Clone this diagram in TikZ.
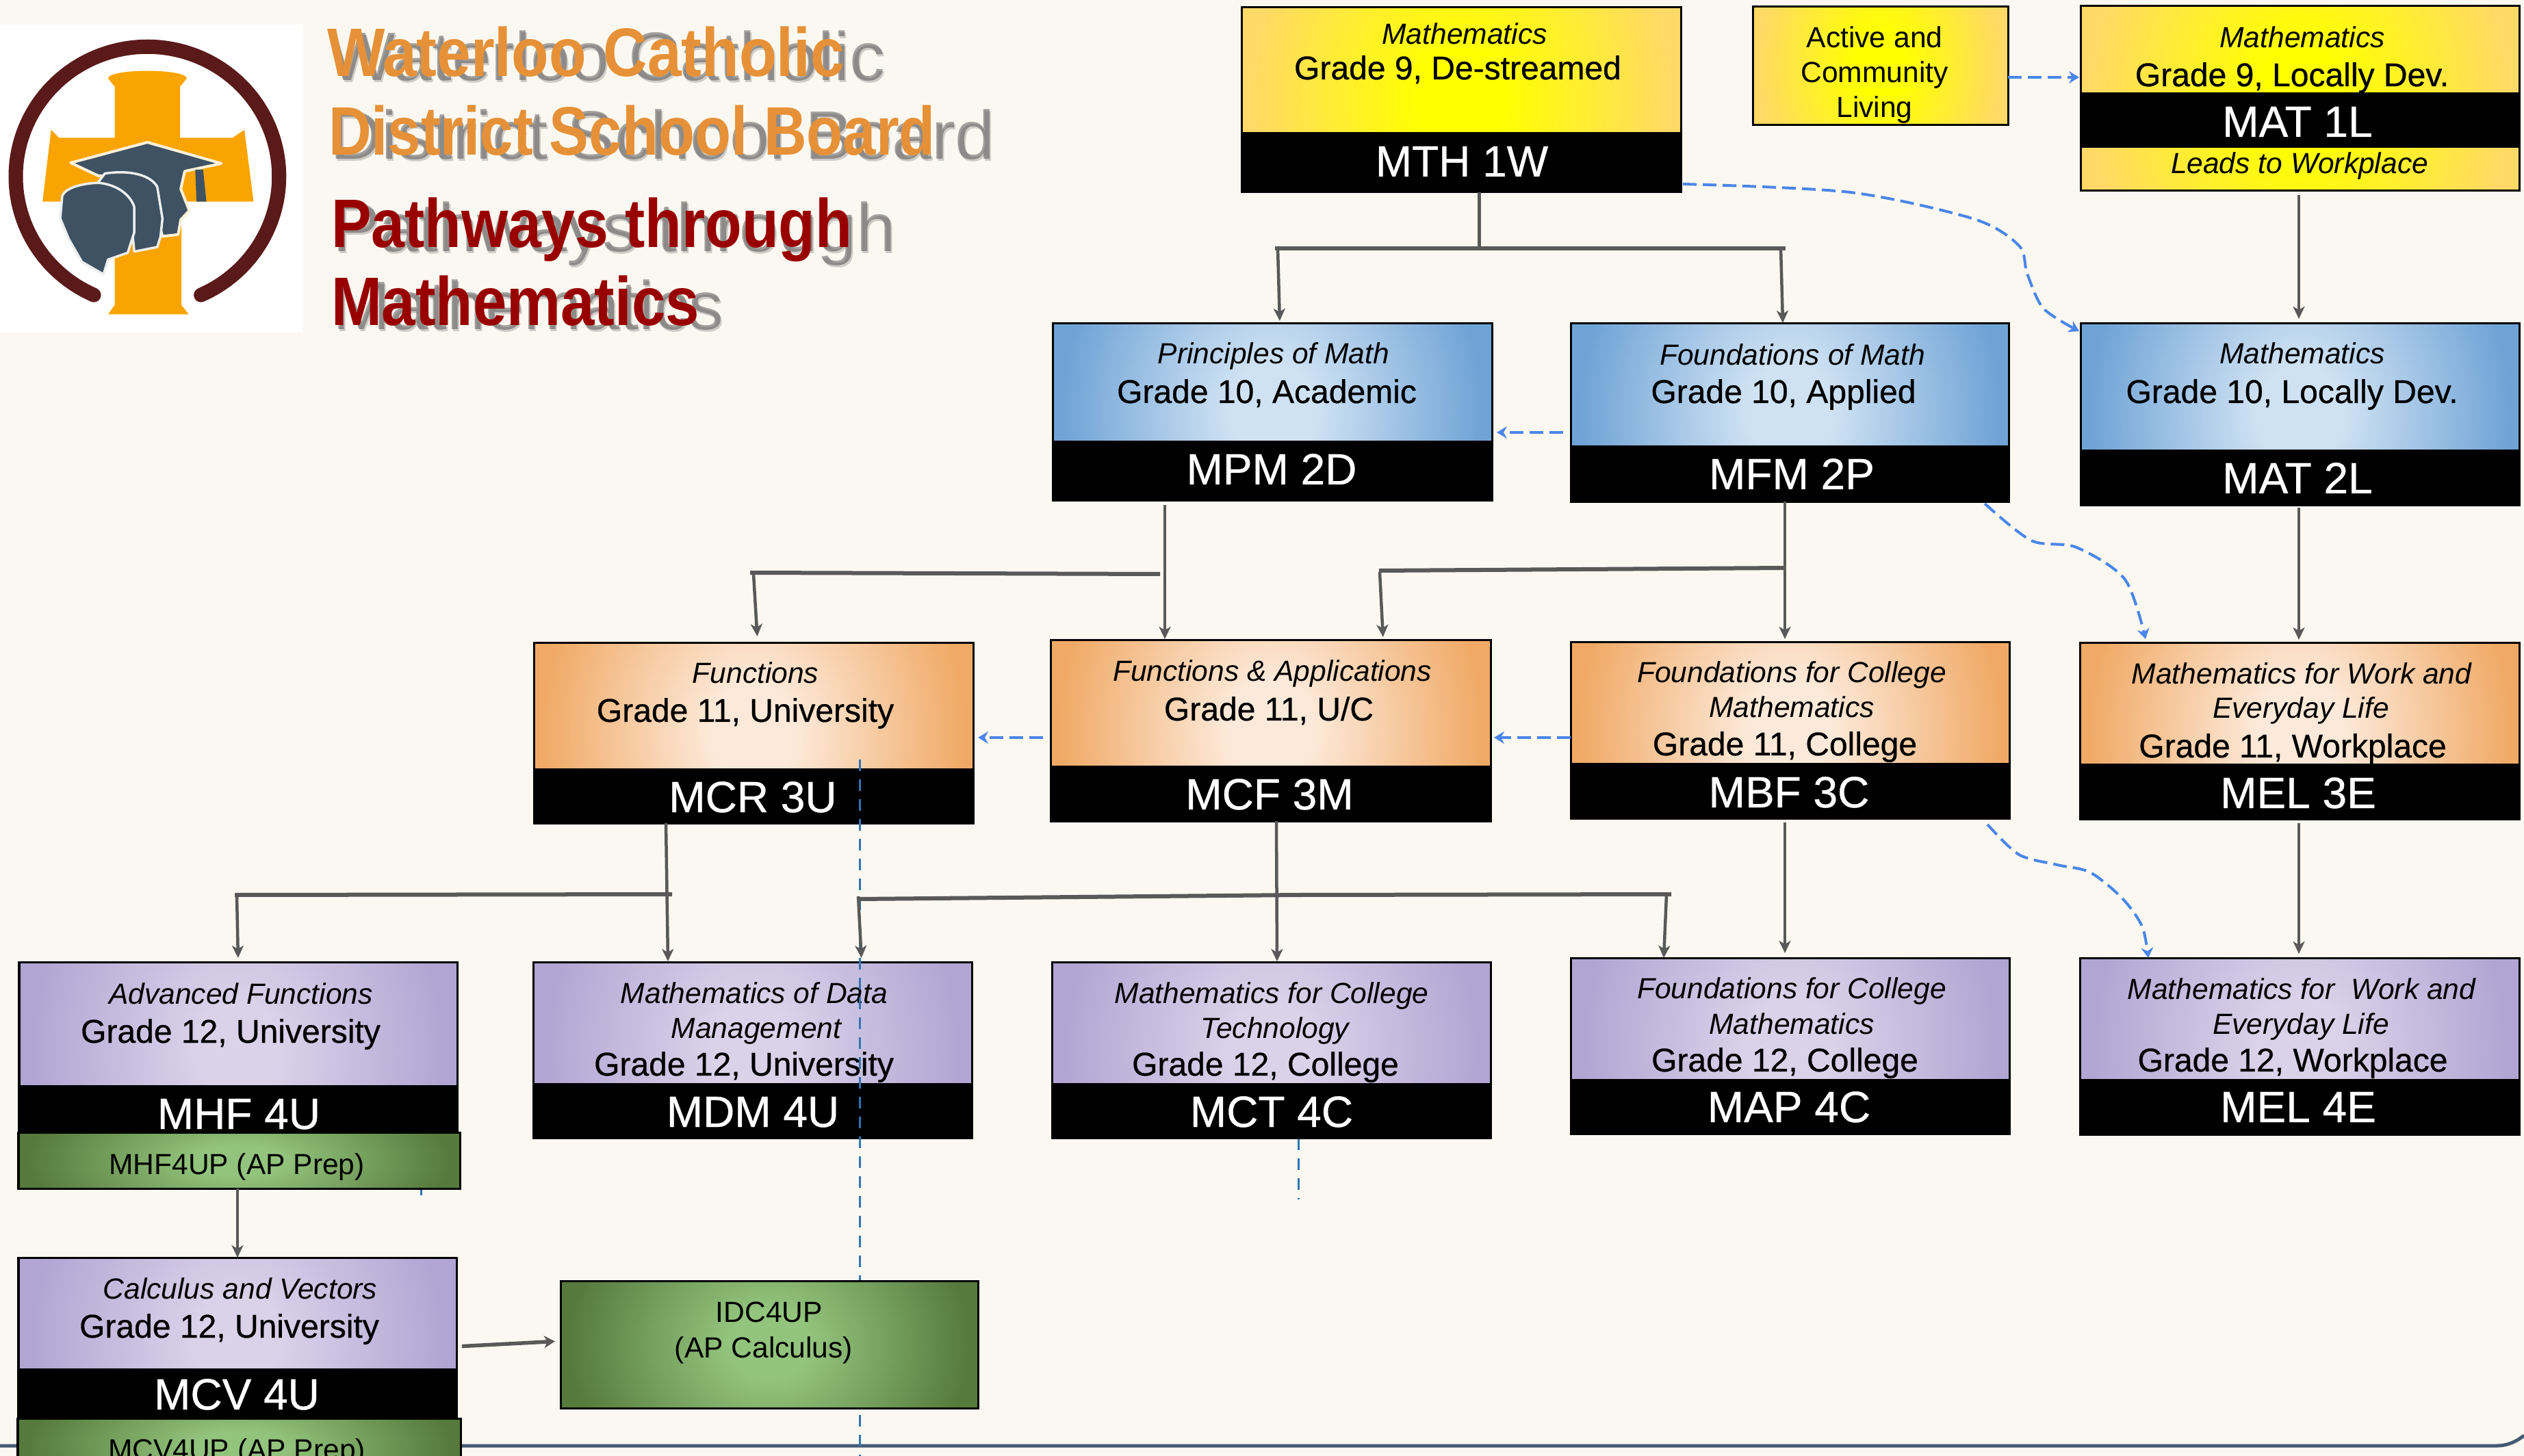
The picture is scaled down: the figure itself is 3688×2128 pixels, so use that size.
\documentclass[tikz,border=0pt]{standalone}
\usepackage{fontspec}
\usepackage{graphicx}
\setmainfont{Liberation Sans}
\newfontfamily\grfam[FakeBold=0.6]{Liberation Sans}
\usetikzlibrary{arrows.meta}
\definecolor{pagebg}{HTML}{FBF8F1}
\definecolor{yelI}{HTML}{FFFF00}\definecolor{yelO}{HTML}{FFD966}
\definecolor{bluI}{HTML}{CFE2F3}\definecolor{bluO}{HTML}{6FA3D6}
\definecolor{oraI}{HTML}{FDE9D9}\definecolor{oraO}{HTML}{F0AA66}
\definecolor{purI}{HTML}{D9D2E9}\definecolor{purO}{HTML}{B0A5D3}
\definecolor{greI}{HTML}{93C47D}\definecolor{greO}{HTML}{567A3C}
\definecolor{conn}{HTML}{595959}
\definecolor{bluedash}{HTML}{4A86E8}
\definecolor{thindash}{HTML}{2E75B6}
\definecolor{slate}{HTML}{465A75}
\definecolor{titleor}{HTML}{E69138}
\definecolor{titlered}{HTML}{990000}
\definecolor{ringred}{HTML}{5B1A1A}
\definecolor{crossor}{HTML}{F9A400}
\definecolor{headsl}{HTML}{3E5263}
\pgfdeclareradialshading{yelsh}{\pgfpointorigin}{color(0bp)=(yelI); color(4bp)=(yelI); color(20bp)=(yelO); color(50bp)=(yelO)}
\pgfdeclareradialshading{blush}{\pgfpointorigin}{color(0bp)=(bluI); color(4bp)=(bluI); color(20bp)=(bluO); color(50bp)=(bluO)}
\pgfdeclareradialshading{orash}{\pgfpointorigin}{color(0bp)=(oraI); color(4bp)=(oraI); color(20bp)=(oraO); color(50bp)=(oraO)}
\pgfdeclareradialshading{pursh}{\pgfpointorigin}{color(0bp)=(purI); color(4bp)=(purI); color(20bp)=(purO); color(50bp)=(purO)}
\pgfdeclareradialshading{gresh}{\pgfpointorigin}{color(0bp)=(greI); color(4bp)=(greI); color(20bp)=(greO); color(50bp)=(greO)}
\newlength\pxu \setlength\pxu{0.01cm}
\newcommand\ilfont{\fontsize{12.1}{14.5}\selectfont\itshape}
\newcommand\plfont{\fontsize{12.1}{14.5}\selectfont}
\newcommand\grfont{\grfam\fontsize{13.66}{14.5}\selectfont}
\newcommand\il[2]{\leavevmode\hbox{\vrule width0pt height36\pxu\kern#1\pxu\ilfont #2\kern-#1\pxu}}
\newcommand\gr[2]{\leavevmode\hbox{\vrule width0pt height36\pxu\kern#1\pxu\grfont #2\kern-#1\pxu}}
\newcommand\pl[2]{\leavevmode\hbox{\vrule width0pt height36\pxu\kern#1\pxu\plfont #2\kern-#1\pxu}}
\tikzset{
  coursebox/.style={rectangle,draw=black,line width=0.03cm,inner sep=0,outer sep=0},
  toptext/.style={anchor=north,align=center,inner sep=0,outer sep=0,text=black,font=\plfont},
  codetext/.style={anchor=base,inner sep=0,outer sep=0,text=white,font=\grfam\fontsize{18.2}{20}\selectfont},
  onetext/.style={anchor=base,inner sep=0,outer sep=0,text=black,font=\plfont},
  gline/.style={draw=conn,line width=0.05cm},
  gbar/.style={draw=conn,line width=0.06cm},
  garrow/.style={draw=conn,line width=0.045cm,-{Stealth[length=0.18cm,width=0.17cm,inset=0.05cm]}},
  barrow/.style={draw=bluedash,line width=0.04cm,dash pattern=on 0.2cm off 0.09cm,-{Stealth[length=0.15cm,width=0.18cm,inset=0.05cm]}},
  thind/.style={draw=thindash,line width=0.03cm,dash pattern=on 0.17cm off 0.12cm},
  titletext/.style={anchor=base west,inner sep=0,outer sep=0},
}
\newcommand\gradbox[6]{%
  \pgfmathsetmacro\bw{#3-#2}\pgfmathsetmacro\bh{#5-#4}%
  \pgfmathsetmacro\bcx{(#2+#3)/2}\pgfmathsetmacro\bcy{(#4+#5)/2}%
  \pgfmathsetmacro\brx{0.6*\bw}\pgfmathsetmacro\bry{1.7*\bh}%
  \node[coursebox,minimum width=\bw*\pxu,minimum height=\bh*\pxu,fill=white,
    path picture={\shade[shading=#6] ([shift={(-\brx,-\bry)}]path picture bounding box.center) rectangle ([shift={(\brx,\bry)}]path picture bounding box.center);}]
    (#1) at (\bcx,\bcy) {};}
\newcommand\blackbar[4]{\fill[black] (#1,#3) rectangle (#2,#4);}
\newcommand\titleline[7]{%
  \node[titletext,text=gray!60!black,opacity=.25] (#1a) at (#2+4,#3+9) {\fontsize{28.5}{30}\selectfont\resizebox{#5\pxu}{\height}{#7}};
  \node[titletext,text=gray!60!black,opacity=.5] (#1b) at (#2+2,#3+6) {\fontsize{28.5}{30}\selectfont\resizebox{#5\pxu}{\height}{#7}};
  \node[titletext,text=#6] (#1) at (#2,#3) {\fontsize{28.5}{30}\selectfont\resizebox{#4\pxu}{\height}{\bfseries #7}};}
\begin{document}
\begin{tikzpicture}[x=0.01cm,y=-0.01cm]
\useasboundingbox (0,0) rectangle (3688,2128);
\clip (0,0) rectangle (3688,2128);
\fill[pagebg] (0,0) rectangle (3688,2128);
% logo (drawn in the coordinates of an anisotropic crop)
\begin{scope}[x=0.00957cm,y=-0.003333cm]
  \fill[white] (0,108) rectangle (463,1460);
  \draw[ringred,line width=0.21cm,line cap=round] plot[domain=-246:66,samples=70,smooth] ({225+201*cos(\x)},{775+570*sin(\x)});
  \fill[crossor] (165,345) .. controls (165,300) and (285,300) .. (285,345) -- (275,380) -- (275,605) -- (355,605) -- (373,570) -- (387,885) -- (277,885) -- (277,1340) -- (288,1380) -- (165,1380) -- (175,1340) -- (175,885) -- (65,885) -- (78,570) -- (90,605) -- (175,605) -- (175,380) -- cycle;
  \draw[draw=white!85!crossor,line width=0.04cm,fill=headsl,line join=round] (225,625) -- (338,718) -- (282,752) -- (276,830) -- (289,925) -- (276,965) -- (272,1030) -- (248,1038) -- (235,900) -- (215,780) -- (150,772) -- (108,715) -- cycle;
  \fill[headsl] (298,745) -- (310,745) -- (315,885) -- (300,885) -- cycle;
  \draw[draw=white!90!headsl,line width=0.035cm,fill=headsl,line join=round] (160,762) .. controls (200,745) and (230,770) .. (240,820) -- (248,960) -- (245,1040) -- (240,1085) -- (205,1105) -- (200,960) -- (190,860) -- (150,800) -- cycle;
  \draw[draw=white!90!headsl,line width=0.035cm,fill=headsl,line join=round] (150,803) .. controls (180,810) and (200,860) .. (205,910) -- (205,1020) -- (195,1110) -- (165,1140) -- (158,1205) -- (125,1150) -- (105,1050) -- (92,960) -- (95,860) .. controls (100,825) and (125,805) .. cycle;
\end{scope}
% titles
\titleline{ttlA}{478}{112}{756}{813}{titleor}{Waterloo Catholic}
\titleline{ttlB}{480}{227}{887}{972}{titleor}{District School Board}
\titleline{ttlC}{484}{362}{761}{823}{titlered}{Pathways through}
\titleline{ttlD}{484}{476}{538}{571}{titlered}{Mathematics}
% bottom rule
\coordinate (ruleL) at (0,2113);
\coordinate (ruleR) at (3688,2098);
\draw[slate,line width=0.05cm] (ruleL) -- (3648,2113) .. controls (3665,2113) and (3678,2106) .. (ruleR);
% small dashed stubs
\coordinate (stubA) at (615,1730); \coordinate (stubB) at (615,1747);
\draw[thind] (stubA) -- (stubB);
\coordinate (stubC) at (1897,1664); \coordinate (stubD) at (1897,1753);
\draw[thind] (stubC) -- (stubD);
% grade 9
\gradbox{mth}{1814}{2456}{11}{281}{yelsh}
\blackbar{1814}{2456}{193}{281}
\node[toptext] (mthT) at (2135,29) {\il{5}{Mathematics}\\\gr{-5}{Grade 9, De-streamed}};
\node[codetext] (mthC) at (2136,258) {MTH 1W};
\gradbox{actv}{2561}{2934}{10}{183}{yelsh}
\node[toptext] (actvT) at (2739,34) {\pl{0}{Active and}\\\pl{0}{Community}\\\pl{0}{Living}};
\gradbox{mata}{3040}{3681}{9}{279}{yelsh}
\blackbar{3040}{3681}{135}{216}
\node[toptext] (mataT) at (3360,34) {\il{4}{Mathematics}\\[5\pxu]\gr{-11}{Grade 9, Locally Dev.}};
\node[codetext] (mataC) at (3357,200) {MAT 1L};
\node[onetext,font=\ilfont] (mataL) at (3360,254) {Leads to Workplace};
% grade 10
\gradbox{mpm}{1538}{2180}{473}{731}{blush}
\blackbar{1538}{2180}{644}{731}
\node[toptext] (mpmT) at (1859,496) {\il{2}{Principles of Math}\\[6\pxu]\gr{-8}{Grade 10, Academic}};
\node[codetext] (mpmC) at (1858,708) {MPM 2D};
\gradbox{mfm}{2295}{2935}{473}{733}{blush}
\blackbar{2295}{2935}{651}{733}
\node[toptext] (mfmT) at (2615,497) {\il{4}{Foundations of Math}\\[5\pxu]\gr{-9}{Grade 10, Applied}};
\node[codetext] (mfmC) at (2618,715) {MFM 2P};
\gradbox{matb}{3040}{3681}{473}{738}{blush}
\blackbar{3040}{3681}{657}{738}
\node[toptext] (matbT) at (3360,496) {\il{4}{Mathematics}\\[6\pxu]\gr{-11}{Grade 10, Locally Dev.}};
\node[codetext] (matbC) at (3357,721) {MAT 2L};
% grade 11
\gradbox{mcr}{780}{1422}{939}{1203}{orash}
\blackbar{780}{1422}{1123}{1203}
\node[toptext] (mcrT) at (1101,962) {\il{3}{Functions}\\[6\pxu]\gr{-12}{Grade 11, University}};
\node[codetext] (mcrC) at (1100,1187) {MCR 3U};
\gradbox{mcf}{1535}{2178}{935}{1200}{orash}
\blackbar{1535}{2178}{1119}{1200}
\node[toptext] (mcfT) at (1857,959) {\il{2}{Functions \& Applications}\\[7\pxu]\gr{-3}{Grade 11, U/C}};
\node[codetext] (mcfC) at (1855,1183) {MCF 3M};
\gradbox{mbf}{2295}{2936}{938}{1196}{orash}
\blackbar{2295}{2936}{1115}{1196}
\node[toptext] (mbfT) at (2615,961) {\il{3}{Foundations for College}\\[1\pxu]\il{3}{Mathematics}\\[4\pxu]\gr{-7}{Grade 11, College}};
\node[codetext] (mbfC) at (2614,1180) {MBF 3C};
\gradbox{melc}{3039}{3681}{939}{1197}{orash}
\blackbar{3039}{3681}{1116}{1197}
\node[toptext] (melcT) at (3360,963) {\il{3}{Mathematics for Work and}\\\il{2}{Everyday Life}\\[6\pxu]\gr{-10}{Grade 11, Workplace}};
\node[codetext] (melcC) at (3358,1181) {MEL 3E};
% grade 12
\gradbox{mhf}{28}{668}{1406}{1660}{pursh}
\blackbar{28}{668}{1586}{1660}
\node[toptext] (mhfT) at (348,1431) {\il{4}{Advanced Functions}\\[6\pxu]\gr{-11}{Grade 12, University}};
\node[codetext] (mhfC) at (349,1650) {MHF 4U};
\gradbox{mhfp}{27}{672}{1655}{1737}{gresh}
\node[onetext] (mhfpT) at (346,1716) {MHF4UP (AP Prep)};
\gradbox{mdm}{779}{1420}{1406}{1663}{pursh}
\blackbar{779}{1420}{1583}{1663}
\node[toptext] (mdmT) at (1100,1430) {\il{2}{Mathematics of Data}\\\il{5}{Management}\\[4\pxu]\gr{-13}{Grade 12, University}};
\node[codetext] (mdmC) at (1100,1647) {MDM 4U};
\gradbox{mct}{1537}{2178}{1406}{1663}{pursh}
\blackbar{1537}{2178}{1583}{1663}
\node[toptext] (mctT) at (1858,1430) {\il{0}{Mathematics for College}\\\il{5}{Technology}\\[4\pxu]\gr{-9}{Grade 12, College}};
\node[codetext] (mctC) at (1858,1647) {MCT 4C};
\gradbox{map}{2295}{2936}{1400}{1657}{pursh}
\blackbar{2295}{2936}{1577}{1657}
\node[toptext] (mapT) at (2615,1423) {\il{3}{Foundations for College}\\[1\pxu]\il{3}{Mathematics}\\[4\pxu]\gr{-7}{Grade 12, College}};
\node[codetext] (mapC) at (2614,1640) {MAP 4C};
\gradbox{meld}{3039}{3681}{1400}{1658}{pursh}
\blackbar{3039}{3681}{1577}{1658}
\node[toptext] (meldT) at (3360,1424) {\il{3}{Mathematics for\ \ Work and}\\\il{2}{Everyday Life}\\[4\pxu]\gr{-10}{Grade 12, Workplace}};
\node[codetext] (meldC) at (3358,1640) {MEL 4E};
\gradbox{mcv}{27}{667}{1838}{2078}{pursh}
\blackbar{27}{667}{2000}{2078}
\node[toptext] (mcvT) at (347,1862) {\il{4}{Calculus and Vectors}\\[6\pxu]\gr{-12}{Grade 12, University}};
\node[codetext] (mcvC) at (346,2060) {MCV 4U};
\gradbox{mcvp}{26}{673}{2073}{2155}{gresh}
\node[onetext] (mcvpT) at (346,2133) {MCV4UP (AP Prep)};
% long thin dashed line
\coordinate (longA) at (1256,1110); \coordinate (longB) at (1256,2128);
\draw[thind] (longA) -- (longB);
\gradbox{idc}{819}{1429}{1872}{2058}{gresh}
\node[toptext] (idcT) at (1120,1896) {\pl{4}{IDC4UP}\\[1\pxu]\pl{-4}{(AP Calculus)}};
% connectors, grey
\coordinate (jA) at (2161,363); \coordinate (jAl) at (1863,363); \coordinate (jAr) at (2609,363);
\draw[gline] (2161,0 |- mth.south) -- (2161,366);
\draw[gbar] (jAl) -- (jAr);
\draw[garrow,shorten >=4\pxu] (1867,363) -- (1870,0 |- mpm.north);
\draw[garrow,shorten >=1\pxu] (2602,363) -- (2605,0 |- mfm.north);
\draw[garrow,shorten <=6\pxu,shorten >=7\pxu] (3359,0 |- mata.south) -- (3359,0 |- matb.north);
\draw[garrow,shorten <=4\pxu,shorten >=4\pxu] (3359,0 |- matb.south) -- (3359,0 |- melc.north);
\coordinate (jBl) at (1096,837); \coordinate (jBr) at (1695,839);
\draw[garrow,shorten <=7\pxu,shorten >=1\pxu] (1702,0 |- mpm.south) -- (1702,0 |- mcf.north);
\draw[gbar] (jBl) -- (jBr);
\draw[garrow,shorten >=9\pxu] (1101,839) -- (1107,0 |- mcr.north);
\draw[garrow,shorten >=4\pxu] (2608,0 |- mfm.south) -- (2608,0 |- mbf.north);
\coordinate (jCl) at (2015,834); \coordinate (jCr) at (2608,830);
\draw[gbar] (jCl) -- (jCr);
\draw[garrow,shorten >=4\pxu] (2016,836) -- (2021,0 |- mcf.north);
\draw[garrow,shorten >=1\pxu] (973,0 |- mcr.south) -- (976,0 |- mdm.north);
\coordinate (jDl) at (343,1308); \coordinate (jDr) at (982,1307);
\draw[gbar] (jDl) -- (jDr);
\draw[garrow,shorten >=6\pxu] (346,1308) -- (348,0 |- mhf.north);
\draw[garrow,shorten >=1\pxu] (1865,0 |- mcf.south) -- (1866,0 |- mct.north);
\coordinate (jEl) at (1254,1314); \coordinate (jEm) at (1896,1308); \coordinate (jEr) at (2442,1307);
\draw[gbar] (jEl) -- (jEm) -- (jEr);
\draw[garrow,shorten >=6\pxu] (1254,1310) -- (1259,0 |- mdm.north);
\draw[garrow] (2435,1308) -- (2431,0 |- map.north);
\draw[garrow,shorten <=6\pxu,shorten >=7\pxu] (2608,0 |- mbf.south) -- (2608,0 |- map.north);
\draw[garrow,shorten <=6\pxu,shorten >=6\pxu] (3359,0 |- melc.south) -- (3359,0 |- meld.north);
\draw[garrow] (347,0 |- mhfp.south) -- (347,0 |- mcv.north);
\draw[draw=conn,line width=0.055cm,-{Stealth[length=0.16cm,width=0.18cm,inset=0.05cm]},shorten <=8\pxu,shorten >=8\pxu] (mcv.east |- 0,1968) -- (idc.west |- 0,1960);
% connectors, blue dashed
\draw[barrow,shorten >=2\pxu] (actv.east |- 0,113) -- (mata.west |- 0,113);
\draw[barrow,shorten <=11\pxu,shorten >=7\pxu] (mfm.west |- 0,632) -- (mpm.east |- 0,632);
\draw[barrow,shorten <=11\pxu,shorten >=7\pxu] (mcf.west |- 0,1078) -- (mcr.east |- 0,1078);
\draw[barrow,shorten >=5\pxu] (mbf.west |- 0,1078) -- (mcf.east |- 0,1078);
\draw[barrow] plot[smooth] coordinates {([yshift=12\pxu,xshift=3\pxu]mth.south east) (2703,281) (2884,320) (2950,359) (2962,400) (2986,451) (3038,484)};
\draw[barrow] plot[smooth] coordinates {(2900,736) (2968,790) (3034,800) (3105,847) (3135,934)};
\draw[barrow] plot[smooth] coordinates {(2904,1205) (2950,1249) (3006,1264) (3054,1275) (3101,1313) (3130,1354) (3139,1400)};
\end{tikzpicture}
\end{document}
